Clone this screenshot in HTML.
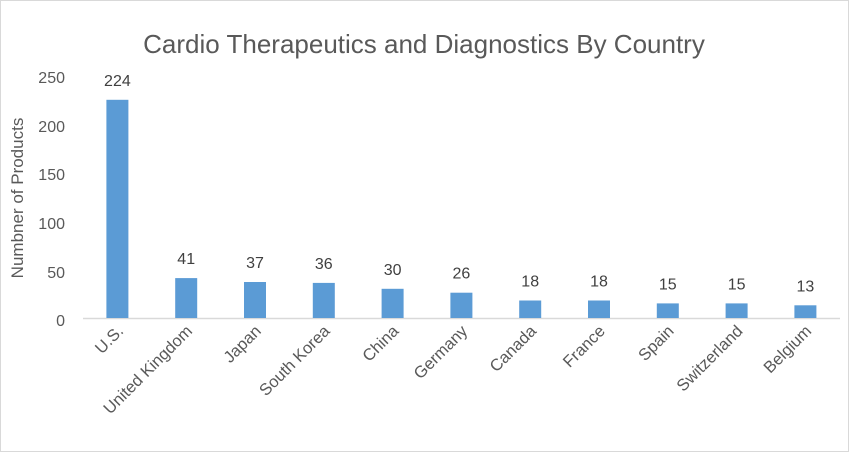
<!DOCTYPE html>
<html><head><style>body{margin:0;background:#fff}</style></head><body>
<svg width="849" height="452" xmlns="http://www.w3.org/2000/svg" font-family="Liberation Sans, sans-serif">
<rect x="0.5" y="0.5" width="848" height="451" fill="#fff" stroke="#d9d9d9"/>
<text x="424" y="53" text-anchor="middle" font-size="26" fill="#595959">Cardio Therapeutics and Diagnostics By Country</text>
<g font-size="16" fill="#595959" text-anchor="end">
<text x="65" y="83">250</text><text x="65" y="132">200</text><text x="65" y="180">150</text><text x="65" y="229">100</text><text x="65" y="278">50</text><text x="65" y="326">0</text>
</g>
<text transform="translate(23,198) rotate(-90)" text-anchor="middle" font-size="17" fill="#595959">Numbner of Products</text>
<line x1="83" y1="318.5" x2="840" y2="318.5" stroke="#d9d9d9" stroke-width="1.5"/>
<g fill="#5b9bd5">
<rect x="106.4" y="99.8" width="22" height="218.2"/>
<rect x="175.2" y="278.1" width="22" height="39.9"/>
<rect x="244" y="282" width="22" height="36"/>
<rect x="312.8" y="282.9" width="22" height="35.1"/>
<rect x="381.6" y="288.8" width="22" height="29.2"/>
<rect x="450.4" y="292.7" width="22" height="25.3"/>
<rect x="519.2" y="300.5" width="22" height="17.5"/>
<rect x="588" y="300.5" width="22" height="17.5"/>
<rect x="656.8" y="303.4" width="22" height="14.6"/>
<rect x="725.6" y="303.4" width="22" height="14.6"/>
<rect x="794.4" y="305.3" width="22" height="12.7"/>
</g>
<g font-size="16" fill="#404040" text-anchor="middle">
<text x="117.4" y="85.8">224</text>
<text x="186.2" y="264.1">41</text>
<text x="255" y="268">37</text>
<text x="323.8" y="268.9">36</text>
<text x="392.6" y="274.8">30</text>
<text x="461.4" y="278.7">26</text>
<text x="530.2" y="286.5">18</text>
<text x="599" y="286.5">18</text>
<text x="667.8" y="289.4">15</text>
<text x="736.6" y="289.4">15</text>
<text x="805.4" y="291.3">13</text>
</g>
<g font-size="16.5" fill="#595959" text-anchor="end">
<text transform="translate(124.4,332) rotate(-45)">U.S.</text>
<text transform="translate(193.2,332) rotate(-45)">United Kingdom</text>
<text transform="translate(262,332) rotate(-45)">Japan</text>
<text transform="translate(330.8,332) rotate(-45)">South Korea</text>
<text transform="translate(399.6,332) rotate(-45)">China</text>
<text transform="translate(468.4,332) rotate(-45)">Germany</text>
<text transform="translate(537.2,332) rotate(-45)">Canada</text>
<text transform="translate(606,332) rotate(-45)">France</text>
<text transform="translate(674.8,332) rotate(-45)">Spain</text>
<text transform="translate(743.6,332) rotate(-45)">Switzerland</text>
<text transform="translate(812.4,332) rotate(-45)">Belgium</text>
</g>
</svg>
</body></html>
